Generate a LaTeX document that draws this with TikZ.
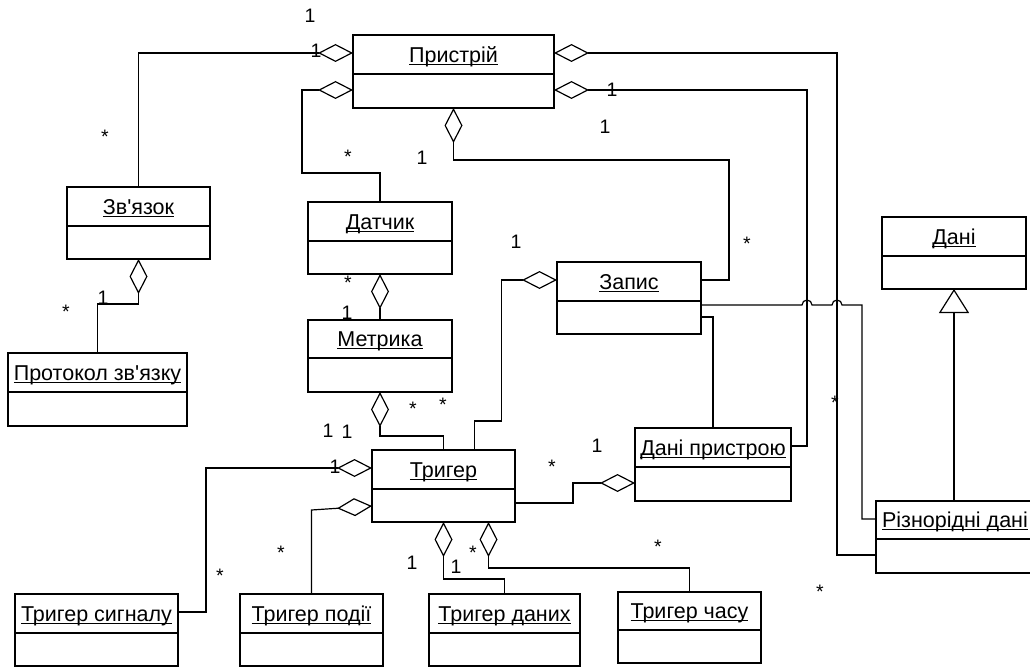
\documentclass[tikz,border=0pt]{standalone}
\usepackage{fontspec}
\setmainfont{Liberation Sans}
\usetikzlibrary{arrows.meta}

% underline set close to the baseline
\newcommand\ulin[1]{\sbox0{#1}\rlap{\copy0}\rule[-2.6pt]{\wd0}{1.2pt}}

\tikzset{
  clsbox/.style={draw, line width=1.7pt, inner sep=0pt, outer sep=0pt},
  clsline/.style={line width=1.7pt},
  conn/.style={line width=1.2pt},
  agg/.style={conn, -{Diamond[open, length={35pt 0}, width={18pt 0}]}},
  gen/.style={conn, -{Triangle[open, length={24pt 0}, width={30pt 0}]}},
  ctitle/.style={font=\fontsize{21.5}{25}\selectfont, inner sep=0pt, anchor=base},
  mult/.style={font=\fontsize{19.5}{23}\selectfont, inner sep=0pt, anchor=base},
  one/.style={mult, yshift=-7pt},
  many/.style={mult, yshift=-11pt},
}

% name, left, top, right, bottom, divider, title
\newcommand\umlclass[7]{%
  \node[clsbox, anchor=north west, minimum width={(#4-#2)*1pt},
        minimum height={(#5-#3)*1pt}] (#1) at (#2,#3) {};
  \draw[clsline] (#1.west |- 0,#6) -- (#1.east |- 0,#6);
  \node[ctitle] (#1-title) at ({(#2+#4)/2},{(#3+#6)/2+7.7}) {\ulin{#7}};
}

\begin{document}
\begin{tikzpicture}[x=1pt,y=-1pt]
\useasboundingbox[fill=white] (0,0) rectangle (1030,668);

% classes
\umlclass{dev}{353}{35}{554}{108}{74}{Пристрій}
\umlclass{zv}{67}{187}{210}{259}{226}{Зв\textquotesingle язок}
\umlclass{pr}{8}{353}{187}{426}{392}{Протокол зв\textquotesingle язку}
\umlclass{dat}{308}{202}{452}{274}{241}{Датчик}
\umlclass{met}{308}{320}{452}{392}{358}{Метрика}
\umlclass{zap}{557}{262}{701}{334}{301}{Запис}
\umlclass{dp}{635}{428}{791}{501}{467}{Дані пристрою}
\umlclass{tr}{372}{450}{515}{522}{489}{Тригер}
\umlclass{ts}{15}{594}{178}{666}{633}{Тригер сигналу}
\umlclass{tp}{240}{594}{383}{666}{633}{Тригер події}
\umlclass{td}{429}{594}{580}{666}{633}{Тригер даних}
\umlclass{tc}{618}{592}{761}{663}{630}{Тригер часу}
\umlclass{dani}{882}{217}{1026}{289}{256}{Дані}
\umlclass{rd}{876}{501}{1034}{573}{539}{Різнорідні дані}

% aggregations
\draw[agg] (zv.north) |- ([yshift=-18pt]dev.north west);
\draw[agg] (dat.north) -- ++(0,-29) -- ++(-78,0) |- ([yshift=-55pt]dev.north west);
\draw[agg] ([yshift=-18pt]zap.north east) -| ++(28,-120) -| (dev.south);
\draw[agg] ([yshift=-54pt]rd.north west) -| ++(-39,-502) -- ([yshift=-18pt]dev.north east);
\draw[agg] ([yshift=-18pt]dp.north east) -| ++(16,-356) -- ([yshift=-55pt]dev.north east);
\draw[agg] (pr.north) -- ++(0,-49) -| (zv.south);
\draw[agg] (met.north) -- (dat.south);
\draw[agg] (tr.north) -- ++(0,-14) -| (met.south);
\draw[agg] ([xshift=31pt]tr.north) -- ++(0,-29) -- ++(27,0) |- ([yshift=-18pt]zap.north west);
\draw[agg] ([yshift=-53pt]tr.north east) -- ++(58,0) |- ([yshift=-55pt]dp.north west);
\draw[agg] ([yshift=-18pt]ts.north east) -- ++(28,0) |- ([yshift=-18pt]tr.north west);
\draw[agg] (tp.north) -- ++(0,-84) -- ([yshift=-56pt]tr.north west);
\draw[agg] (td.north) -- ++(0,-15) -| (tr.south);
\draw[agg] (tc.north) -- ++(0,-24) -| ([xshift=45pt]tr.south);

% plain associations
\draw[conn] ([yshift=-43pt]zap.north east) -- ++(101,0)
  arc[start angle=180, end angle=0, radius=5pt] -- ++(20,0)
  arc[start angle=180, end angle=0, radius=5pt] -- ++(20,0)
  |- ([yshift=-18pt]rd.north west);
\draw[conn] ([yshift=-55pt]zap.north east) -| (dp.north);

% generalization
\draw[gen] (dani.south |- rd.north) -- (dani.south);

% multiplicities
\node[one] (m1) at (310,16) {1};
\node[one] (m2) at (316,51) {1};
\node[one] (m3) at (612,90) {1};
\node[one] (m4) at (605,127) {1};
\node[one] (m5) at (422,158) {1};
\node[many] (m6) at (348,153) {*};
\node[many] (m7) at (747,240) {*};
\node[many] (m8) at (105,133) {*};
\node[one] (m9) at (103,297) {1};
\node[many] (m10) at (66,307) {*};
\node[many] (m11) at (348,279) {*};
\node[one] (m12) at (347,312) {1};
\node[one] (m13) at (516,242) {1};
\node[many] (m14) at (413,404) {*};
\node[many] (m15) at (443,400) {*};
\node[one] (m16) at (328,430) {1};
\node[one] (m17) at (347,431) {1};
\node[one] (m18) at (335,466) {1};
\node[many] (m19) at (281,548) {*};
\node[many] (m20) at (220,571) {*};
\node[one] (m21) at (412,562) {1};
\node[one] (m22) at (456,566) {1};
\node[many] (m23) at (473,548) {*};
\node[one] (m24) at (597,445) {1};
\node[many] (m25) at (552,462) {*};
\node[many] (m26) at (658,542) {*};
\node[many] (m27) at (835,398) {*};
\node[many] (m28) at (820,587) {*};
\end{tikzpicture}
\end{document}
